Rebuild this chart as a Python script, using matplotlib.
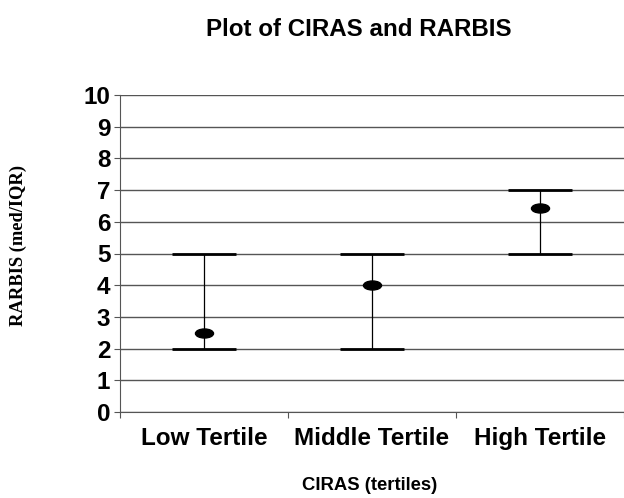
import matplotlib
matplotlib.use("Agg")
import matplotlib.pyplot as plt
import numpy as np
from matplotlib.path import Path
from matplotlib.transforms import Affine2D

categories = ["Low Tertile", "Middle Tertile", "High Tertile"]
medians = [2.5, 4.0, 6.45]
q1 = [2.0, 2.0, 5.0]
q3 = [5.0, 5.0, 7.0]

fig = plt.figure(figsize=(6.24, 4.98), dpi=100)
ax = fig.add_axes([120/624, 1-412/498, 1-120/624, (412-95)/498])

x = np.arange(len(categories)) + 0.5
med = np.array(medians)
lo = med - np.array(q1)
hi = np.array(q3) - med

ax.errorbar(x, med, yerr=[lo, hi], fmt='none', ecolor='black', elinewidth=0.9,
            capsize=0, zorder=3)
ax.hlines(q1, x - 0.19, x + 0.19, colors='black', linewidth=2.0, zorder=3)
ax.hlines(q3, x - 0.19, x + 0.19, colors='black', linewidth=2.0, zorder=3)

ell = Path.unit_circle().transformed(Affine2D().scale(1.0, 0.5))
ax.plot(x, med, linestyle='none', marker=ell, markersize=13, color='black', zorder=4)

ax.set_xlim(0, 3)
ax.set_ylim(0, 10)
ax.set_yticks(range(0, 11))
ax.set_xticks([0, 1, 2, 3])
ax.set_xticklabels([])
ax.set_xticks(x, minor=True)
ax.set_xticklabels(categories, minor=True, fontsize=17.5, fontweight='bold',
                   family='Liberation Sans')
ax.tick_params(axis='x', which='minor', length=0, pad=11)
ax.tick_params(axis='x', which='major', length=4, direction='out', color='#555555')
ax.tick_params(axis='y', length=4, direction='out', color='#555555', pad=3)
for lab in ax.get_yticklabels():
    lab.set_fontsize(17.5)
    lab.set_fontweight('bold')
    lab.set_family('Liberation Sans')

ax.grid(axis='y', color='#555555', linewidth=1.0)
ax.set_axisbelow(True)
for s in ['top', 'right']:
    ax.spines[s].set_visible(False)
ax.spines['left'].set_color('#555555')
ax.spines['bottom'].set_color('#555555')

fig.text(359/624, 1-29/498, "Plot of CIRAS and RARBIS", ha='center', va='center',
         fontsize=17.4, fontweight='bold', family='Liberation Sans')
fig.text(370/624, 1-485/498, "CIRAS (tertiles)", ha='center', va='center',
         fontsize=13.3, fontweight='bold', family='Liberation Sans')
fig.text(18/624, 1-245/498, "RARBIS (med/IQR)", ha='center', va='center',
         rotation=90, fontsize=13.3, fontweight='bold', family='Liberation Serif')

fig.savefig("out.png", dpi=100)
